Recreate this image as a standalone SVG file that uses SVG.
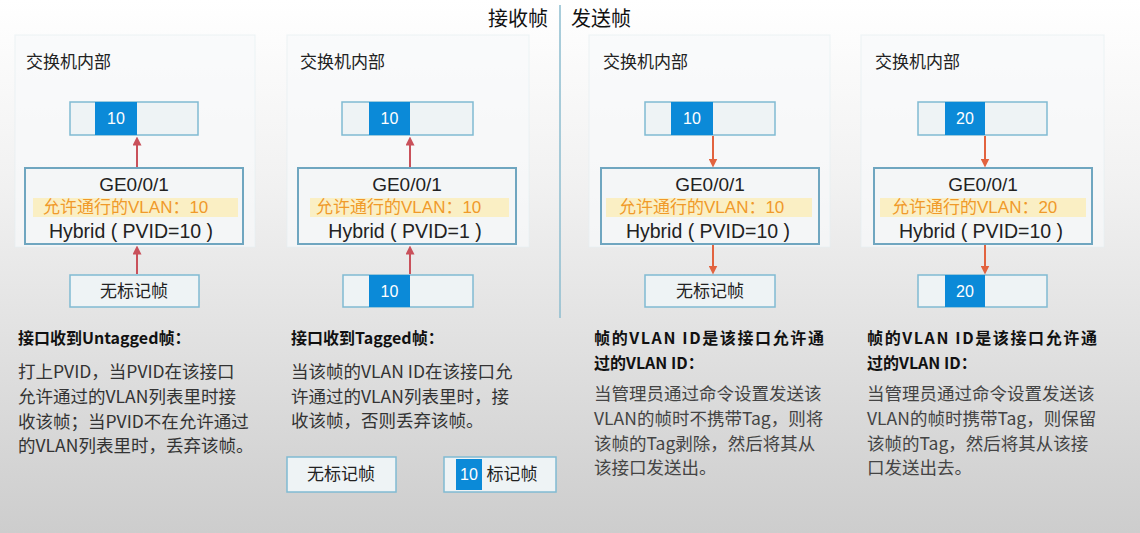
<svg xmlns="http://www.w3.org/2000/svg" width="1140" height="533" viewBox="0 0 1140 533">
<defs>
<linearGradient id="bg" x1="0" y1="0" x2="0" y2="1">
<stop offset="0" stop-color="#ffffff"/>
<stop offset="0.35" stop-color="#f1f1f1"/>
<stop offset="1" stop-color="#cdcdcd"/>
</linearGradient>
<marker id="ahUp" viewBox="0 0 10 10" refX="5" refY="5" markerWidth="9" markerHeight="9" markerUnits="userSpaceOnUse" orient="auto">
<path d="M0,0 L10,5 L0,10 Z" fill="#c9515b"/>
</marker>
<marker id="ahDown" viewBox="0 0 10 10" refX="5" refY="5" markerWidth="9" markerHeight="9" markerUnits="userSpaceOnUse" orient="auto">
<path d="M0,0 L10,5 L0,10 Z" fill="#e2633f"/>
</marker>
</defs>
<style>
text{font-family:"Liberation Sans","Noto Sans CJK SC",sans-serif;fill:#222}
.cjk{font-family:"Noto Sans CJK SC",sans-serif}
.title{font-size:20px;fill:#111}
.panel{fill:#f8fafb;fill-opacity:0.7;stroke:#e6eff2;stroke-width:1;stroke-opacity:0.7}
.hdr{font-size:17px;fill:#222}
.frame{fill:#eef3f5;stroke:#80bad2;stroke-width:1.5}
.tag{fill:#0b8ad8}
.tagt{font-size:16px;fill:#ffffff;text-anchor:middle}
.ge{fill:#f4f6f7;stroke:#6fa6c0;stroke-width:2}
.band{fill:#fbeebe;fill-opacity:0.9}
.get{font-size:19px;text-anchor:middle;fill:#222}
.vl{font-size:17px;fill:#f09a2a}
.hy{font-size:19.5px;text-anchor:middle;fill:#222}
.lbl{font-size:17px;text-anchor:middle;fill:#222}
.h{font-size:16px;font-weight:bold;fill:#111}
.b{font-size:17.5px;fill:#333}
.b2{font-size:17.5px;fill:#444}
.up{stroke:#c9515b;stroke-width:2;fill:none;marker-end:url(#ahUp)}
.dn{stroke:#e2633f;stroke-width:2;fill:none;marker-end:url(#ahDown)}
</style>
<rect x="0" y="0" width="1140" height="533" fill="url(#bg)"/>

<g id="header">
<text class="title cjk" x="548" y="26" text-anchor="end">接收帧</text>
<line x1="560" y1="5" x2="560" y2="318" stroke="#8cbccf" stroke-width="1.5"/>
<text class="title cjk" x="571" y="26">发送帧</text>
</g>

<g id="panels">
<rect class="panel" x="15" y="35" width="240" height="212"/>
<rect class="panel" x="287" y="35" width="242" height="212"/>
<rect class="panel" x="589" y="35" width="241" height="212"/>
<rect class="panel" x="861" y="35" width="243" height="212"/>
<text class="hdr cjk" x="26" y="68">交换机内部</text>
<text class="hdr cjk" x="300" y="68">交换机内部</text>
<text class="hdr cjk" x="603" y="68">交换机内部</text>
<text class="hdr cjk" x="875" y="68">交换机内部</text>
</g>

<!-- Panel 1 -->
<g id="p1-frame-top">
<rect class="frame" x="70" y="102" width="128" height="33"/>
<rect class="tag" x="95" y="102" width="42" height="33"/>
<text class="tagt" x="116" y="124">10</text>
</g>
<g id="p1-port">
<rect class="ge" x="25" y="168" width="218" height="76"/>
<rect class="band" x="33" y="198" width="205" height="19"/>
<text class="get" x="134" y="191">GE0/0/1</text>
<text class="vl" x="43" y="213">允许通行的VLAN：10</text>
<text class="hy" x="131" y="238">Hybrid ( PVID=10 )</text>
</g>
<g id="p1-frame-bottom">
<rect class="frame" x="70" y="275" width="129" height="32"/>
<text class="lbl cjk" x="134" y="297">无标记帧</text>
</g>

<!-- Panel 2 -->
<g id="p2-frame-top">
<rect class="frame" x="342" y="102" width="131" height="33"/>
<rect class="tag" x="369" y="102" width="41" height="33"/>
<text class="tagt" x="389.5" y="124">10</text>
</g>
<g id="p2-port">
<rect class="ge" x="298" y="168" width="218" height="76"/>
<rect class="band" x="310" y="198" width="199" height="19"/>
<text class="get" x="407" y="191">GE0/0/1</text>
<text class="vl" x="316" y="213">允许通行的VLAN：10</text>
<text class="hy" x="405" y="238">Hybrid ( PVID=1 )</text>
</g>
<g id="p2-frame-bottom">
<rect class="frame" x="343" y="275" width="130" height="32"/>
<rect class="tag" x="369" y="275" width="41" height="32"/>
<text class="tagt" x="389.5" y="297">10</text>
</g>

<!-- Panel 3 -->
<g id="p3-frame-top">
<rect class="frame" x="645" y="102" width="130" height="33"/>
<rect class="tag" x="671" y="102" width="42" height="33"/>
<text class="tagt" x="692" y="124">10</text>
</g>
<g id="p3-port">
<rect class="ge" x="601" y="168" width="218" height="76"/>
<rect class="band" x="606" y="198" width="206" height="19"/>
<text class="get" x="710" y="191">GE0/0/1</text>
<text class="vl" x="619" y="213">允许通行的VLAN：10</text>
<text class="hy" x="708" y="238">Hybrid ( PVID=10 )</text>
</g>
<g id="p3-frame-bottom">
<rect class="frame" x="645" y="275" width="130" height="32"/>
<text class="lbl cjk" x="710" y="297">无标记帧</text>
</g>

<!-- Panel 4 -->
<g id="p4-frame-top">
<rect class="frame" x="918" y="102" width="129" height="33"/>
<rect class="tag" x="945" y="102" width="40" height="33"/>
<text class="tagt" x="965" y="124">20</text>
</g>
<g id="p4-port">
<rect class="ge" x="874" y="168" width="218" height="76"/>
<rect class="band" x="880" y="198" width="206" height="19"/>
<text class="get" x="983" y="191">GE0/0/1</text>
<text class="vl" x="892" y="213">允许通行的VLAN：20</text>
<text class="hy" x="981" y="238">Hybrid ( PVID=10 )</text>
</g>
<g id="p4-frame-bottom">
<rect class="frame" x="918" y="275" width="129" height="32"/>
<rect class="tag" x="945" y="275" width="40" height="32"/>
<text class="tagt" x="965" y="297">20</text>
</g>

<g id="connectors">
<line class="up" x1="137" y1="167" x2="137" y2="141"/>
<line class="up" x1="137" y1="274" x2="137" y2="250"/>
<line class="up" x1="410" y1="167" x2="410" y2="141"/>
<line class="up" x1="410" y1="274" x2="410" y2="250"/>
<line class="dn" x1="713" y1="136" x2="713" y2="163"/>
<line class="dn" x1="713" y1="245" x2="713" y2="270"/>
<line class="dn" x1="985" y1="136" x2="985" y2="163"/>
<line class="dn" x1="985" y1="245" x2="985" y2="270"/>
</g>

<g id="text-p1">
<text class="h cjk" x="18" y="344">接口收到Untagged帧：</text>
<text class="b cjk" x="18" y="378">打上PVID，当PVID在该接口</text>
<text class="b cjk" x="18" y="403">允许通过的VLAN列表里时接</text>
<text class="b cjk" x="18" y="428">收该帧；当PVID不在允许通过</text>
<text class="b cjk" x="18" y="452">的VLAN列表里时，丢弃该帧。</text>
</g>
<g id="text-p2">
<text class="h cjk" x="291" y="344">接口收到Tagged帧：</text>
<text class="b cjk" x="291" y="378">当该帧的VLAN ID在该接口允</text>
<text class="b cjk" x="291" y="403">许通过的VLAN列表里时，接</text>
<text class="b cjk" x="291" y="427">收该帧，否则丢弃该帧。</text>
</g>
<g id="text-p3">
<text class="h cjk" x="594" y="344" textLength="230" lengthAdjust="spacing">帧的VLAN ID是该接口允许通</text>
<text class="h cjk" x="594" y="369">过的VLAN ID：</text>
<text class="b2 cjk" x="594" y="400">当管理员通过命令设置发送该</text>
<text class="b2 cjk" x="594" y="425">VLAN的帧时不携带Tag，则将</text>
<text class="b2 cjk" x="594" y="450">该帧的Tag剥除，然后将其从</text>
<text class="b2 cjk" x="594" y="474">该接口发送出。</text>
</g>
<g id="text-p4">
<text class="h cjk" x="867" y="344" textLength="230" lengthAdjust="spacing">帧的VLAN ID是该接口允许通</text>
<text class="h cjk" x="867" y="369">过的VLAN ID：</text>
<text class="b2 cjk" x="867" y="400">当管理员通过命令设置发送该</text>
<text class="b2 cjk" x="867" y="425">VLAN的帧时携带Tag，则保留</text>
<text class="b2 cjk" x="867" y="450">该帧的Tag，然后将其从该接</text>
<text class="b2 cjk" x="867" y="474">口发送出去。</text>
</g>

<g id="legend-untagged">
<rect class="frame" x="287" y="457" width="109" height="35"/>
<text class="lbl cjk" x="341" y="480">无标记帧</text>
</g>
<g id="legend-tagged">
<rect class="frame" x="444" y="457" width="112" height="35"/>
<rect class="tag" x="456" y="459" width="26" height="31"/>
<text class="tagt" x="469" y="480">10</text>
<text class="lbl cjk" x="512" y="480">标记帧</text>
</g>
</svg>
